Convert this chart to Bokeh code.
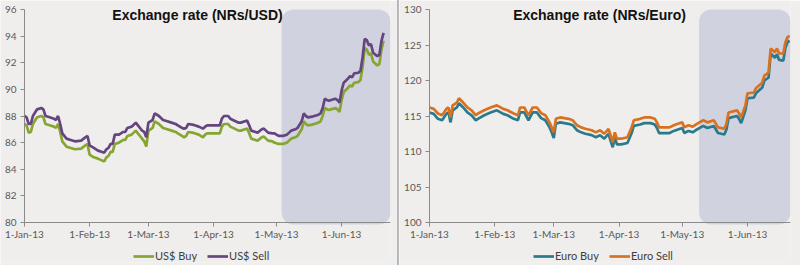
import pandas as pd
from bokeh.plotting import figure
from bokeh.models import (BoxAnnotation, Label, Legend, LegendItem, FixedTicker,
                          CustomJSTickFormatter, Range1d, Div)
from bokeh.layouts import row
from bokeh.embed import file_html
from bokeh.resources import INLINE

# ---------------- data ----------------
start_date = "2013-01-01"
tick_dates = ["2013-01-01", "2013-02-01", "2013-03-01", "2013-04-01", "2013-05-01", "2013-06-01"]
tick_labels = ["1-Jan-13", "1-Feb-13", "1-Mar-13", "1-Apr-13", "1-May-13", "1-Jun-13"]

usd_titles = "Exchange rate (NRs/USD)"
eur_titles = "Exchange rate (NRs/Euro)"

usd_yticks = [80, 82, 84, 86, 88, 90, 92, 94, 96]
eur_yticks = [100, 105, 110, 115, 120, 125, 130]

# days since 1-Jan-13
usd_day = [0, 1, 2, 3, 4, 6, 8, 9, 10, 12, 14, 15, 16, 17, 18, 20, 22, 24, 27, 29, 30, 31,
           33, 35, 37, 38, 39, 40, 41, 42, 43, 45, 47, 48, 49, 51, 53, 54, 55, 56, 57, 58,
           59, 60, 61, 62, 63, 64, 66, 68, 70, 72, 73, 75, 76, 77, 78, 80, 81, 83, 85, 86,
           87, 90, 93, 94, 95, 97, 98, 100, 102, 103, 105, 106, 107, 108, 110, 111, 113,
           114, 115, 116, 118, 119, 120, 121, 123, 125, 127, 129, 130, 132, 133, 134, 135,
           137, 138, 140, 141, 142, 143, 144, 145, 146, 148, 149, 150, 151, 152, 154, 155,
           156, 157, 159, 160, 161, 162, 163, 164, 165, 166, 168, 169, 170, 171]
usd_sell = [88.0, 87.9, 87.4, 87.4, 88.0, 88.5, 88.6, 88.5, 88.0, 87.9, 87.8, 87.7, 88.0, 87.4,
            86.7, 86.3, 86.2, 86.1, 86.15, 86.4, 86.5, 85.8, 85.6, 85.4, 85.3, 85.25, 85.5,
            85.6, 85.9, 85.9, 86.6, 86.6, 86.8, 86.8, 87.1, 87.2, 87.5, 87.3, 87.1, 86.9,
            86.8, 86.4, 87.5, 87.6, 87.7, 88.2, 88.1, 88.0, 87.7, 87.6, 87.5, 87.4, 87.3,
            87.1, 87.05, 87.1, 87.4, 87.35, 87.3, 87.2, 87.05, 87.2, 87.3, 87.3, 87.3, 87.8,
            88.0, 88.0, 87.8, 87.65, 87.5, 87.5, 87.6, 87.65, 87.3, 86.9, 86.8, 86.75, 87.0,
            87.05, 86.9, 86.75, 86.7, 86.7, 86.6, 86.5, 86.5, 86.6, 86.9, 87.0, 87.1, 87.6,
            88.2, 88.0, 87.9, 87.95, 88.0, 88.1, 88.2, 88.6, 89.3, 89.2, 89.15, 89.2, 89.3,
            89.2, 89.0, 89.9, 90.5, 90.8, 91.0, 90.9, 91.2, 91.25, 91.4, 92.4, 93.8, 93.7,
            93.3, 93.4, 92.75, 92.5, 92.6, 93.65, 94.25]
usd_buy = [87.4, 87.3, 86.75, 86.8, 87.4, 87.9, 88.0, 87.9, 87.4, 87.3, 87.2, 87.1, 87.4, 86.8,
           86.1, 85.7, 85.6, 85.5, 85.55, 85.8, 85.9, 85.1, 84.9, 84.8, 84.65, 84.6, 84.9,
           85.0, 85.3, 85.3, 85.9, 86.0, 86.2, 86.2, 86.5, 86.6, 86.9, 86.7, 86.5, 86.3,
           86.1, 85.7, 86.9, 87.0, 87.1, 87.6, 87.5, 87.4, 87.1, 87.0, 86.9, 86.8, 86.7,
           86.5, 86.4, 86.5, 86.8, 86.75, 86.7, 86.6, 86.4, 86.6, 86.7, 86.7, 86.7, 87.2,
           87.4, 87.4, 87.2, 87.05, 86.9, 86.9, 87.0, 87.05, 86.7, 86.3, 86.2, 86.15, 86.4,
           86.45, 86.3, 86.15, 86.1, 86.0, 85.95, 85.9, 85.9, 86.0, 86.3, 86.4, 86.5, 87.0,
           87.6, 87.4, 87.3, 87.35, 87.4, 87.5, 87.6, 88.0, 88.6, 88.5, 88.45, 88.5, 88.6,
           88.5, 88.3, 89.2, 89.8, 90.1, 90.3, 90.2, 90.5, 90.55, 90.7, 91.7, 93.1, 93.0,
           92.6, 92.7, 92.1, 91.8, 91.9, 93.0, 93.65]

eur_day = [0, 2, 4, 6, 8, 9, 10, 11, 13, 14, 16, 18, 20, 22, 23, 26, 29, 32, 35, 37, 40, 42,
           43, 45, 47, 49, 51, 53, 55, 57, 58, 59, 60, 62, 66, 68, 70, 72, 74, 77, 79, 81,
           83, 85, 86, 87, 88, 89, 91, 94, 96, 97, 100, 102, 105, 107, 108, 109, 111, 114,
           116, 118, 120, 121, 123, 125, 127, 130, 132, 135, 137, 140, 141, 142, 146, 147,
           148, 150, 151, 154, 155, 158, 159, 161, 162, 164, 165, 166, 168, 169, 170, 171]
eur_sell = [116.2, 116.0, 115.35, 115.1, 116.0, 116.2, 114.8, 116.5, 116.9, 117.5, 116.9,
            116.2, 115.8, 115.1, 115.35, 115.8, 116.2, 116.5, 116.0, 115.8, 115.35, 115.1,
            116.2, 116.2, 115.1, 116.2, 116.2, 115.4, 115.1, 114.1, 113.4, 112.7, 114.6,
            114.8, 114.6, 114.4, 113.7, 113.4, 113.2, 113.0, 112.7, 113.0, 112.5, 113.2,
            112.25, 111.3, 112.7, 111.8, 111.8, 112.0, 113.4, 114.4, 114.6, 114.8, 114.8,
            114.6, 114.1, 113.4, 113.4, 113.4, 113.7, 113.9, 114.1, 113.4, 113.7, 113.5,
            113.9, 114.4, 114.1, 114.4, 113.4, 113.2, 113.9, 115.5, 115.8, 115.35, 114.8,
            116.5, 118.2, 118.3, 118.9, 119.7, 120.7, 121.1, 124.5, 124.0, 124.5, 123.8,
            123.8, 125.4, 126.1, 126.3]
eur_buy = [115.5, 115.3, 114.6, 114.4, 115.3, 115.5, 114.1, 115.8, 116.2, 116.8, 116.2,
           115.5, 115.1, 114.4, 114.6, 115.1, 115.5, 115.8, 115.3, 115.1, 114.6, 114.4,
           115.5, 115.5, 114.4, 115.5, 115.5, 114.7, 114.4, 113.4, 112.7, 111.9, 113.9,
           114.1, 113.9, 113.7, 113.0, 112.7, 112.5, 112.3, 112.0, 112.3, 111.8, 112.5,
           111.5, 110.6, 112.0, 111.0, 111.0, 111.2, 112.6, 113.6, 113.8, 114.0, 114.0,
           113.8, 113.3, 112.6, 112.6, 112.6, 112.9, 113.1, 113.3, 112.6, 112.9, 112.7,
           113.1, 113.6, 113.3, 113.6, 112.6, 112.4, 113.1, 114.7, 115.0, 114.6, 114.0,
           115.8, 117.5, 117.6, 118.2, 119.0, 120.0, 120.4, 123.8, 123.2, 123.7, 122.9,
           122.8, 124.6, 125.4, 125.6]

# highlighted period (shaded box) start dates
usd_box_start = "2013-05-03 10:00"
eur_box_start = "2013-05-09 00:00"

# ---------------- styling ----------------
BG = "#efeeec"
BOX = "#d0d3df"
C_USD_BUY = "#86a531"
C_USD_SELL = "#65457f"
C_EUR_BUY = "#2b7a8b"
C_EUR_SELL = "#d9711e"
AXIS_C = "#8a8a8a"
LBL_C = "#595959"

FIG_H = 265
TOP_PX = 9     # pixel row of the top y tick
BOTTOM = 3
AXIS_PX = 222  # pixel row of the x axis


def ms(s):
    return pd.Timestamp(s).value / 1e6


tick_ms = [ms(d) for d in tick_dates]
x_fmt_code = "const i = tvals.indexOf(tick); return i >= 0 ? tlabels[i] : '';"


def make_fig(width, axis_left, right, x_end, y0, y1, yticks, days, buy, sell, c_buy, c_sell,
             names, title, title_x, legend_x, box_start):
    dates = pd.Timestamp(start_date) + pd.to_timedelta(days, unit="D")
    frame_bottom = FIG_H - BOTTOM
    frame_right = width - right
    px_per_unit = (AXIS_PX - TOP_PX) / (y1 - y0)
    y_low = y0 - (frame_bottom - AXIS_PX) / px_per_unit  # room for labels + legend
    y_high = y1 + TOP_PX / px_per_unit                    # room for the top tick label
    x0, x1 = ms(start_date), ms(x_end)
    px_per_ms = (frame_right - axis_left) / (x1 - x0)
    x_low = x0 - axis_left / px_per_ms  # room for the y tick labels
    p = figure(width=width, height=FIG_H, x_axis_type="datetime", output_backend="svg",
               toolbar_location=None,
               x_range=Range1d(x_low, x1), y_range=Range1d(y_low, y_high),
               min_border_left=0, min_border_right=right, min_border_top=0,
               min_border_bottom=BOTTOM, background_fill_color=BG, border_fill_color=BG,
               outline_line_color=None)
    p.xgrid.visible = False
    p.ygrid.visible = False

    box = BoxAnnotation(left=ms(box_start), right=x1,
                        bottom=y0 - 2.0 / px_per_unit, top=y1,
                        fill_color=BOX, fill_alpha=1.0, line_color=None,
                        border_radius=12, level="underlay")
    p.add_layout(box)

    r_buy = p.line(dates, buy, line_color=c_buy, line_width=2.7)
    r_sell = p.line(dates, sell, line_color=c_sell, line_width=2.7)

    xa = p.xaxis[0]
    xa.fixed_location = y0
    xa.bounds = (x0, x1)
    xa.ticker = FixedTicker(ticks=tick_ms)
    xa.formatter = CustomJSTickFormatter(args=dict(tvals=tick_ms, tlabels=tick_labels),
                                         code=x_fmt_code)
    ya = p.yaxis[0]
    ya.fixed_location = x0
    ya.bounds = (y0, y1)
    ya.ticker = FixedTicker(ticks=yticks)
    for ax in (xa, ya):
        ax.axis_line_color = AXIS_C
        ax.major_tick_line_color = AXIS_C
        ax.major_tick_in = 0
        ax.major_tick_out = 4
        ax.minor_tick_line_color = None
        ax.major_label_text_font = "Lato"
        ax.major_label_text_font_size = "10px"
        ax.major_label_text_color = LBL_C
    xa.major_label_standoff = 1
    ya.major_label_standoff = 4

    p.add_layout(Label(x=title_x, y=frame_bottom - 14, x_units="screen", y_units="screen",
                       text=title, text_align="center", text_baseline="middle",
                       text_font="Liberation Sans", text_font_style="bold",
                       text_font_size="14px", text_color="#111111"))

    legend = Legend(items=[LegendItem(label=names[0], renderers=[r_buy]),
                           LegendItem(label=names[1], renderers=[r_sell])],
                    orientation="horizontal", location=(legend_x, 0),
                    background_fill_alpha=0, border_line_color=None, padding=0, margin=0,
                    spacing=10, glyph_width=21, glyph_height=12, label_height=12,
                    label_standoff=1, label_text_font="Lato", label_text_font_size="11px",
                    label_text_color="#404040")
    p.add_layout(legend)
    return p


p1 = make_fig(397, 24, 7, "2013-06-24 07:00", 80, 96, usd_yticks, usd_day, usd_buy, usd_sell,
              C_USD_BUY, C_USD_SELL, ["US$ Buy", "US$ Sell"], usd_titles, 197, 133,
              usd_box_start)
p2 = make_fig(401, 30, 10, "2013-06-21 10:00", 100, 130, eur_yticks, eur_day, eur_buy,
              eur_sell, C_EUR_BUY, C_EUR_SELL, ["Euro Buy", "Euro Sell"], eur_titles, 200,
              134, eur_box_start)

sep = Div(width=2, height=FIG_H, margin=0, styles={"background-color": "#b8b8b8"})

layout = row(p1, sep, p2)
open("out.html", "w").write(file_html(layout, INLINE))
